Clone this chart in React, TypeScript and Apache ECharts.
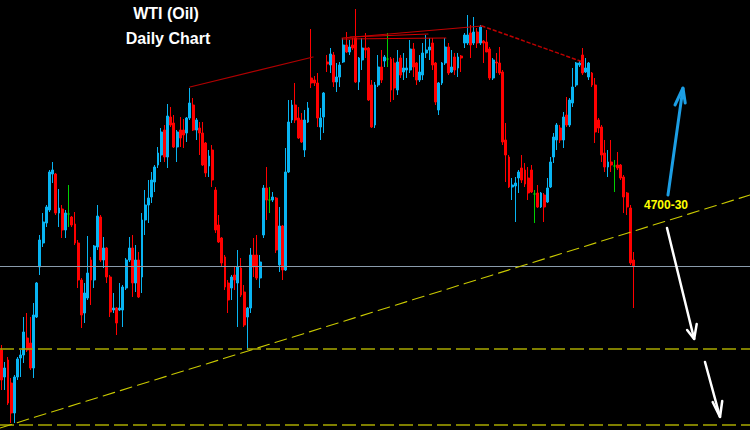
import React, { useEffect, useRef } from "react";
import * as echarts from "echarts";

// ---- data (prices in points, e.g. 4700 = $47.00) ----
const TOTAL_SLOTS = 235;
const slotLabels = Array.from({ length: TOTAL_SLOTS }, (_, i) => `D${i + 1}`);

const opens = [
  4460, 4406, 4440, 4394, 4334, 4406, 4444, 4450, 4484, 4474,
  4424, 4526, 4626, 4674, 4714, 4740, 4812, 4812, 4734, 4742,
  4700, 4732, 4726, 4712, 4674, 4600, 4534, 4564, 4640, 4600,
  4666, 4726, 4640, 4664, 4606, 4540, 4544, 4540, 4540, 4584,
  4640, 4664, 4594, 4640, 4606, 4720, 4750, 4766, 4796, 4830,
  4850, 4900, 4846, 4926, 4914, 4866, 4900, 4900, 4894, 4924,
  4950, 4900, 4904, 4894, 4874, 4828, 4860, 4780, 4710, 4684,
  4646, 4594, 4584, 4610, 4594, 4624, 4576, 4526, 4544, 4650,
  4650, 4604, 4690, 4784, 4760, 4760, 4764, 4630, 4708, 4620,
  4816, 4920, 4950, 4924, 4920, 4860, 4916, 5004, 5000, 4994,
  4906, 4926, 5036, 5030, 5050, 4996, 5006, 5036, 5070, 5056,
  5070, 5084, 4996, 5040, 5064, 5064, 4990, 4910, 4990, 5026,
  5038, 5042, 5042, 5034, 4980, 5044, 5016, 5020, 5020, 5062,
  5034, 5000, 5010, 5054, 5060, 5074, 5034, 4940, 4994, 5034,
  5066, 5016, 5046, 5024, 5048, 5074, 5074, 5094, 5074, 5096,
  5074, 5078, 5076, 5062, 5004, 5036, 5034, 5016, 4880, 4846,
  4786, 4788, 4804, 4824, 4820, 4804, 4820, 4772, 4774, 4746,
  4770, 4756, 4786, 4846, 4880, 4904, 4880, 4930, 4910, 4954,
  4990, 5030, 5050, 5016, 5006, 5014, 4990, 4920, 4906, 4854,
  4826, 4836, 4828, 4830, 4830, 4806, 4774, 4744, 4640,
];
const closes = [
  4400, 4424, 4354, 4334, 4406, 4442, 4450, 4496, 4460, 4424,
  4530, 4594, 4680, 4716, 4746, 4816, 4820, 4734, 4744, 4700,
  4734, 4732, 4710, 4674, 4600, 4530, 4574, 4614, 4600, 4668,
  4728, 4640, 4664, 4606, 4536, 4544, 4514, 4544, 4586, 4640,
  4664, 4594, 4640, 4566, 4720, 4750, 4764, 4800, 4826, 4854,
  4896, 4846, 4928, 4910, 4866, 4896, 4884, 4890, 4924, 4954,
  4900, 4920, 4894, 4830, 4814, 4848, 4800, 4700, 4676, 4634,
  4586, 4560, 4606, 4600, 4626, 4570, 4510, 4544, 4650, 4626,
  4604, 4636, 4784, 4760, 4760, 4766, 4660, 4708, 4620, 4816,
  4916, 4950, 4920, 4884, 4876, 4920, 4944, 4994, 4994, 4924,
  4924, 4974, 5032, 5052, 4996, 5006, 5030, 5070, 5056, 5066,
  5064, 4996, 5044, 5064, 5060, 4960, 4906, 4990, 5026, 5000,
  5046, 5042, 4980, 4984, 5036, 5010, 5024, 5024, 5062, 5026,
  5000, 5016, 5054, 5060, 5066, 5030, 4956, 4994, 5034, 5066,
  5014, 5026, 5020, 5046, 5044, 5090, 5090, 5070, 5096, 5074,
  5106, 5074, 5056, 5004, 5040, 5034, 5014, 4876, 4850, 4786,
  4790, 4794, 4816, 4800, 4792, 4774, 4776, 4772, 4746, 4774,
  4746, 4784, 4836, 4886, 4910, 4880, 4926, 4910, 4960, 4986,
  5034, 5034, 5014, 5024, 5034, 4990, 4896, 4904, 4850, 4826,
  4836, 4830, 4828, 4824, 4804, 4766, 4746, 4634, 4628,
];
const lows = [
  4380, 4380, 4350, 4314, 4314, 4400, 4406, 4434, 4456, 4420,
  4404, 4524, 4610, 4666, 4706, 4736, 4794, 4730, 4706, 4684,
  4684, 4706, 4706, 4670, 4584, 4504, 4514, 4560, 4550, 4584,
  4660, 4636, 4624, 4594, 4526, 4534, 4490, 4538, 4506, 4580,
  4636, 4566, 4576, 4564, 4574, 4690, 4714, 4754, 4776, 4824,
  4836, 4836, 4824, 4906, 4864, 4836, 4866, 4864, 4876, 4920,
  4898, 4880, 4850, 4828, 4806, 4806, 4786, 4694, 4674, 4626,
  4580, 4534, 4560, 4580, 4506, 4566, 4506, 4460, 4534, 4606,
  4600, 4584, 4684, 4720, 4734, 4756, 4654, 4616, 4600, 4618,
  4814, 4914, 4914, 4882, 4874, 4846, 4914, 4984, 4988, 4906,
  4880, 4894, 5016, 5014, 4986, 4976, 4986, 5034, 5054, 5050,
  5060, 4994, 4980, 5020, 5044, 4958, 4904, 4904, 4986, 4994,
  5026, 5026, 4956, 4960, 4970, 5004, 5000, 5004, 5014, 5006,
  4990, 4996, 5000, 5044, 5040, 5020, 4950, 4930, 4990, 5030,
  5010, 5014, 5010, 5006, 5016, 5064, 5070, 5044, 5070, 5064,
  5070, 5034, 5056, 5000, 5000, 5014, 5010, 4870, 4796, 4784,
  4760, 4716, 4774, 4794, 4786, 4760, 4774, 4714, 4744, 4744,
  4716, 4754, 4784, 4834, 4860, 4874, 4864, 4906, 4906, 4946,
  4986, 5026, 5010, 5014, 5000, 4986, 4874, 4894, 4836, 4816,
  4806, 4816, 4776, 4820, 4800, 4734, 4730, 4630, 4544,
];
const highs = [
  4470, 4436, 4446, 4404, 4410, 4446, 4460, 4526, 4534, 4526,
  4554, 4596, 4690, 4734, 4750, 4820, 4836, 4814, 4782, 4750,
  4740, 4790, 4728, 4736, 4680, 4604, 4594, 4688, 4646, 4670,
  4750, 4730, 4686, 4666, 4610, 4574, 4546, 4594, 4590, 4644,
  4686, 4690, 4670, 4656, 4734, 4780, 4800, 4816, 4830, 4866,
  4904, 4910, 4952, 4946, 4930, 4900, 4926, 4922, 4926, 4984,
  4964, 4924, 4916, 4916, 4876, 4860, 4870, 4786, 4730, 4686,
  4650, 4600, 4610, 4626, 4660, 4644, 4590, 4546, 4664, 4684,
  4690, 4650, 4790, 4826, 4786, 4776, 4766, 4746, 4710, 4864,
  4960, 4960, 4994, 4946, 4934, 4940, 4956, 5102, 5008, 5014,
  4944, 4976, 5050, 5064, 5056, 5034, 5036, 5084, 5096, 5080,
  5084, 5142, 5046, 5084, 5094, 5066, 5000, 4996, 5050, 5060,
  5050, 5094, 5046, 5044, 5060, 5050, 5054, 5044, 5080, 5074,
  5036, 5050, 5074, 5090, 5084, 5084, 5036, 4996, 5036, 5084,
  5074, 5060, 5054, 5054, 5050, 5094, 5130, 5110, 5126, 5104,
  5110, 5080, 5100, 5066, 5044, 5054, 5066, 5020, 4914, 4850,
  4804, 4806, 4820, 4850, 4834, 4826, 4830, 4780, 4790, 4776,
  4774, 4804, 4846, 4894, 4914, 4910, 4936, 4966, 4964, 5024,
  5036, 5040, 5064, 5044, 5036, 5016, 5004, 4924, 4910, 4880,
  4860, 4880, 4840, 4856, 4832, 4810, 4776, 4750, 4656,
];

// horizontal levels
const supportLevels = [4462, 4310];
const lastPriceLevel = 4627;

// annotation lines, in [bar index, price]
const risingTrend = [[-0.5, 4304], [234.5, 4770]];
const neckLineA = [[59, 4986], [97.6, 5046]];
const topLineB = [[106.7, 5082], [139.2, 5084]];
const topLineC = [[106.7, 5084], [150.5, 5108]];
const topLineD = [[109.2, 5086], [133.6, 5092]];
const dottedTop = [[150.5, 5108], [182.2, 5036]];

const blueArrowShaft = [[208.8, 4770], [213.5, 4984]];
const blueArrowHead = [[211.0, 4950], [213.5, 4984], [214.2, 4954]];
const whiteArrow1Shaft = [[208.5, 4704], [217.0, 4482]];
const whiteArrow1Head = [[214.8, 4500], [217.0, 4482], [217.8, 4512]];
const whiteArrow2Shaft = [[220.4, 4436], [225.1, 4326]];
const whiteArrow2Head = [[222.8, 4356], [225.1, 4326], [225.8, 4358]];

const titleLines = ["WTI (Oil)", "Daily Chart"];
const levelLabel = "4700-30";

const BULL = "#08b4f2";
const BEAR = "#ff0000";
const DOJI = "#00d000";

function seg(pts: number[][], color: string, width: number, type: any = "solid", z = 5) {
  return {
    type: "line",
    xAxisIndex: 1,
    yAxisIndex: 0,
    data: pts,
    symbol: "none",
    silent: true,
    clip: false,
    z,
    lineStyle: { color, width, type, cap: "round" },
  };
}

export default function App() {
  const ref = useRef<HTMLDivElement>(null);
  useEffect(() => {
    const chart = echarts.init(ref.current!, null, { renderer: "svg" });
    const candles = opens.map((o, i) => {
      const v = [o, closes[i], lows[i], highs[i]];
      if (o === closes[i]) {
        return {
          value: v,
          itemStyle: { color: DOJI, color0: DOJI, borderColor: DOJI, borderColor0: DOJI },
        };
      }
      return v;
    });
    const option: any = {
      animation: false,
      backgroundColor: "#000000",
      grid: { left: 0, right: 0, top: 0, bottom: 0 },
      xAxis: [
        { type: "category", data: slotLabels, show: false, boundaryGap: true },
        { type: "value", min: -0.5, max: TOTAL_SLOTS - 0.5, show: false },
      ],
      yAxis: { type: "value", min: 4300, max: 5160, show: false, splitLine: { show: false } },
      series: [
        {
          type: "candlestick",
          data: candles,
          barWidth: 2.4,
          z: 2,
          itemStyle: {
            color: BULL,
            color0: BEAR,
            borderColor: BULL,
            borderColor0: BEAR,
            borderWidth: 1,
          },
          markLine: {
            silent: true,
            symbol: ["none", "none"],
            label: { show: false },
            data: [
              { yAxis: lastPriceLevel, lineStyle: { color: "#8a9bab", width: 1, type: "solid" } },
              { yAxis: supportLevels[0], lineStyle: { color: "#a9a900", width: 1.6, type: [14, 5] } },
              { yAxis: supportLevels[1], lineStyle: { color: "#a9a900", width: 1.6, type: [14, 5] } },
            ],
          },
        },
        seg(risingTrend, "#c9c900", 1.1, [12, 6], 6),
        seg(neckLineA, "#b00000", 1.2),
        seg(topLineB, "#d00000", 1.2),
        seg(topLineC, "#c00000", 1.2),
        seg(topLineD, "#d00000", 1.2),
        seg(dottedTop, "#c00000", 1.5, [3, 3]),
        seg(blueArrowShaft, "#1c9ee4", 3, "solid", 8),
        seg(blueArrowHead, "#1c9ee4", 3, "solid", 8),
        seg(whiteArrow1Shaft, "#ffffff", 2.5, "solid", 8),
        seg(whiteArrow1Head, "#ffffff", 2.5, "solid", 8),
        seg(whiteArrow2Shaft, "#ffffff", 2.5, "solid", 8),
        seg(whiteArrow2Head, "#ffffff", 2.5, "solid", 8),
      ],
      graphic: [
        {
          type: "text",
          x: 166,
          y: 13,
          z: 20,
          style: {
            text: titleLines[0],
            fill: "#ffffff",
            font: 'bold 16px "Liberation Sans", Arial, sans-serif',
            textAlign: "center",
            textVerticalAlign: "middle",
          },
        },
        {
          type: "text",
          x: 168,
          y: 38,
          z: 20,
          style: {
            text: titleLines[1],
            fill: "#ffffff",
            font: 'bold 16px "Liberation Sans", Arial, sans-serif',
            textAlign: "center",
            textVerticalAlign: "middle",
          },
        },
        {
          type: "text",
          x: 666,
          y: 205,
          z: 20,
          style: {
            text: levelLabel,
            fill: "#ffff00",
            font: 'bold 12px "Liberation Sans", Arial, sans-serif',
            textAlign: "center",
            textVerticalAlign: "middle",
          },
        },
      ],
    };
    chart.setOption(option);
    return () => chart.dispose();
  }, []);
  return (
    <div
      ref={ref}
      style={{ position: "fixed", left: 0, top: 0, width: 750, height: 430, background: "#000" }}
    />
  );
}
